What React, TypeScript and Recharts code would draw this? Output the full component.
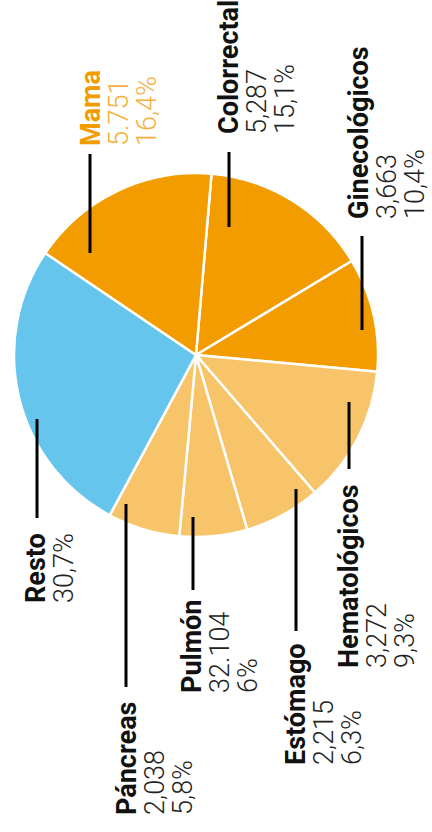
import React from 'react';
import { PieChart, Pie, Cell } from 'recharts';

// slices in drawing order, clockwise from the top
const names = ['Colorrectal', 'Ginecológicos', 'Hematológicos', 'Estómago', 'Pulmón', 'Páncreas', 'Resto', 'Mama'];
// slice sizes as drawn (share of the circle, %)
const shares = [15.0, 10.1, 12.2, 6.8, 6.0, 6.4, 26.6, 16.9];
const counts = ['5,287', '3,663', '3,272', '2,215', '32.104', '2,038', '', '5.751'];
const percents = ['15,1%', '10,4%', '9,3%', '6,3%', '6%', '5,8%', '30,7%', '16,4%'];
const groups = ['dark', 'dark', 'light', 'light', 'light', 'light', 'rest', 'dark'];

const COLORS: Record<string, string> = {
  dark: '#F29C00',
  light: '#F7C46A',
  rest: '#66C5EC',
};

// label placement: name baseline x, text start y, leader line x / y1 / y2
const labelLayout = [
  { tx: 238, ty: 134, lx: 229, ly1: 152, ly2: 227 },
  { tx: 368, ty: 219, lx: 362, ly1: 236, ly2: 330 },
  { tx: 358, ty: 668, lx: 349, ly1: 402, ly2: 469 },
  { tx: 305, ty: 765, lx: 296, ly1: 489, ly2: 631 },
  { tx: 201, ty: 693, lx: 193, ly1: 517, ly2: 590 },
  { tx: 136, ty: 815, lx: 126, ly1: 504, ly2: 687 },
  { tx: 45, ty: 603, lx: 37, ly1: 419, ly2: 518 },
  { tx: 100, ty: 146, lx: 90, ly1: 154, ly2: 253 },
];

const data = names.map((name, i) => ({ name, value: shares[i] }));

const FONT = 'Roboto, "DejaVu Sans", sans-serif';
const LINE = 28.2;

const renderLabel = (props: any) => {
  const i = props.index;
  const l = labelLayout[i];
  const highlight = names[i] === 'Mama';
  const nameColor = highlight ? '#F29C00' : '#111';
  const numColor = highlight ? '#F5B03C' : '#222';
  const lines = [counts[i], percents[i]].filter((s) => s !== '');
  return (
    <g key={`lbl-${i}`}>
      <line x1={l.lx} x2={l.lx} y1={l.ly1} y2={l.ly2} stroke="#000" strokeWidth={3} />
      <text
        x={l.tx}
        y={l.ty}
        transform={`rotate(-90 ${l.tx} ${l.ty})`}
        textAnchor="start"
        fontFamily={FONT}
        fontWeight={700}
        fontSize={27}
        fill={nameColor}
      >
        {names[i]}
      </text>
      {lines.map((s, j) => {
        const x = l.tx + LINE * (j + 1);
        return (
          <text
            key={j}
            x={x}
            y={l.ty}
            transform={`rotate(-90 ${x} ${l.ty})`}
            textAnchor="start"
            fontFamily={FONT}
            fontWeight={300}
            fontSize={27}
            fill={numColor}
          >
            {s}
          </text>
        );
      })}
    </g>
  );
};

export default function App() {
  return (
    <div style={{ position: 'absolute', left: 0, top: 0, width: 432, height: 832, background: '#fff' }}>
      <PieChart width={432} height={832} margin={{ top: 0, right: 0, bottom: 0, left: 0 }}>
        <Pie
          data={data}
          dataKey="value"
          nameKey="name"
          cx={196}
          cy={355}
          outerRadius={182}
          startAngle={85.1}
          endAngle={-274.9}
          stroke="#fff"
          strokeWidth={2.5}
          label={renderLabel}
          labelLine={false}
          isAnimationActive={false}
        >
          {data.map((d, i) => (
            <Cell key={d.name} fill={COLORS[groups[i]]} />
          ))}
        </Pie>
      </PieChart>
    </div>
  );
}
